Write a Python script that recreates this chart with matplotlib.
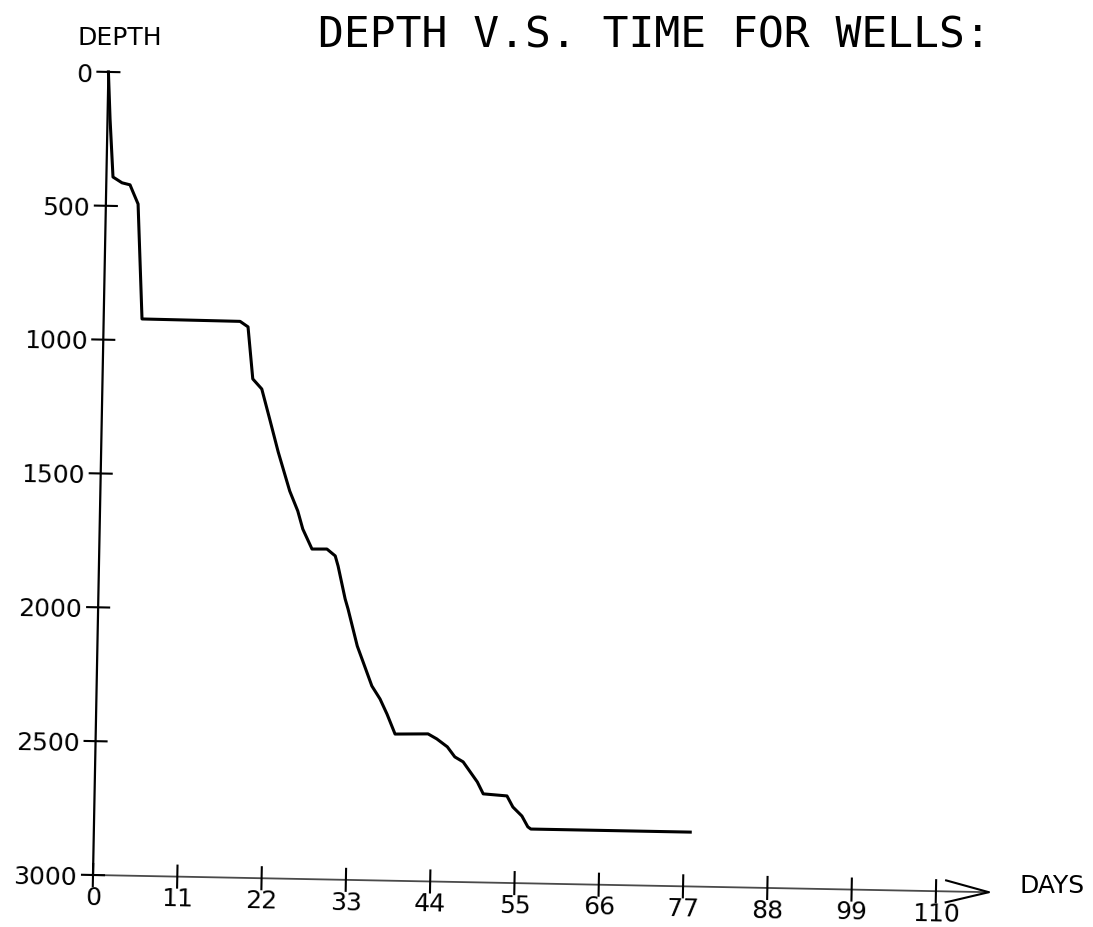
#depth vs time plot for a well, old plotter style
import matplotlib.pyplot as plt
from matplotlib.transforms import Affine2D, offset_copy

#values
days = [0, 0.33, 0.86, 2.05, 3.1, 3.5, 4.2, 5.0, 17.8, 18.85, 19.6, 20.8, 21.9, 23.1,
        24.7, 25.8, 26.5, 27.75, 29.7, 30.8, 31.2, 32.2, 32.6, 33.9, 34.7, 35.9, 37.0,
        37.95, 39.05, 43.35, 44.5, 45.9, 46.9, 48.0, 49.9, 50.7, 53.8, 54.6, 55.8,
        56.6, 57.0, 77.8]
depth = [0, 175, 392, 413, 420, 446, 491, 920, 922, 942, 1136, 1173, 1284, 1407,
         1552, 1626, 1693, 1767, 1766, 1791, 1829, 1951, 1988, 2126, 2185, 2274, 2322,
         2378, 2452, 2449, 2467, 2496, 2533, 2551, 2625, 2669, 2675, 2716, 2749,
         2789, 2797, 2797]
xticks = [0, 11, 22, 33, 44, 55, 66, 77, 88, 99, 110]
yticks = [0, 500, 1000, 1500, 2000, 2500, 3000]

W, H = 1093, 928
X0, Y0 = 93, 876          # pixel of the origin (0 days, 3000)
PX_DAY = 843.1 / 110      # pixels per day
PX_FT = 803.2 / 3000      # pixels per depth unit
TILT = -1.1               # the scan is a bit rotated

fig = plt.figure(figsize=(W / 100, H / 100), dpi=100)
ax = fig.add_axes([0, 0, 1, 1])
ax.set_xlim(-X0 / PX_DAY, (W - X0) / PX_DAY)
ax.set_ylim(3000 + (H - Y0) / PX_FT, 3000 - Y0 / PX_FT)
ax.axis('off')

tr = ax.transData + Affine2D().rotate_deg_around(X0, H - Y0, TILT)

#curve
ax.plot(days, depth, color='black', lw=2.2, transform=tr, solid_joinstyle='round')

#axes drawn by hand like the plotter did
tip = 116.9
ax.plot([0, tip], [3000, 3000], color='#4a4a4a', lw=1.3, transform=tr)
ax.plot([0, 0], [3000, 0], color='black', lw=1.6, transform=tr)
ax.plot([111.3, tip, 111.3], [3000 - 11 / PX_FT, 3000, 3000 + 11 / PX_FT],
        color='black', lw=1.5, transform=tr)

tx = 11 / PX_DAY
ty = 11 / PX_FT
for v in xticks:
    ax.plot([v, v], [3000 - ty, 3000 + ty], color='black', lw=1.5, transform=tr)
for d in yticks:
    ax.plot([-tx, tx], [d, d], color='black', lw=1.5, transform=tr)

#tick labels
ylab_tr = offset_copy(tr, x=-16, y=-9, units='dots')
for d in yticks:
    ax.text(0, d, str(d), transform=ylab_tr, ha='right', va='baseline',
            fontsize=18, rotation=TILT, rotation_mode='anchor')
xlab_tr = offset_copy(tr, x=0, y=-29, units='dots')
for v in xticks:
    ax.text(v, 3000, str(v), transform=xlab_tr, ha='center', va='baseline',
            fontsize=18, rotation=TILT, rotation_mode='anchor')

fig.text(318 / W, 1 - 48 / H, 'DEPTH V.S. TIME FOR WELLS:', family='DejaVu Sans Mono',
         fontsize=31, ha='left', va='baseline')
fig.text(120 / W, 1 - 45 / H, 'DEPTH', fontsize=18, ha='center', va='baseline')
fig.text(1020 / W, 1 - 893 / H, 'DAYS', fontsize=18, ha='left', va='baseline')

fig.savefig('out.png', dpi=100, facecolor='white')
